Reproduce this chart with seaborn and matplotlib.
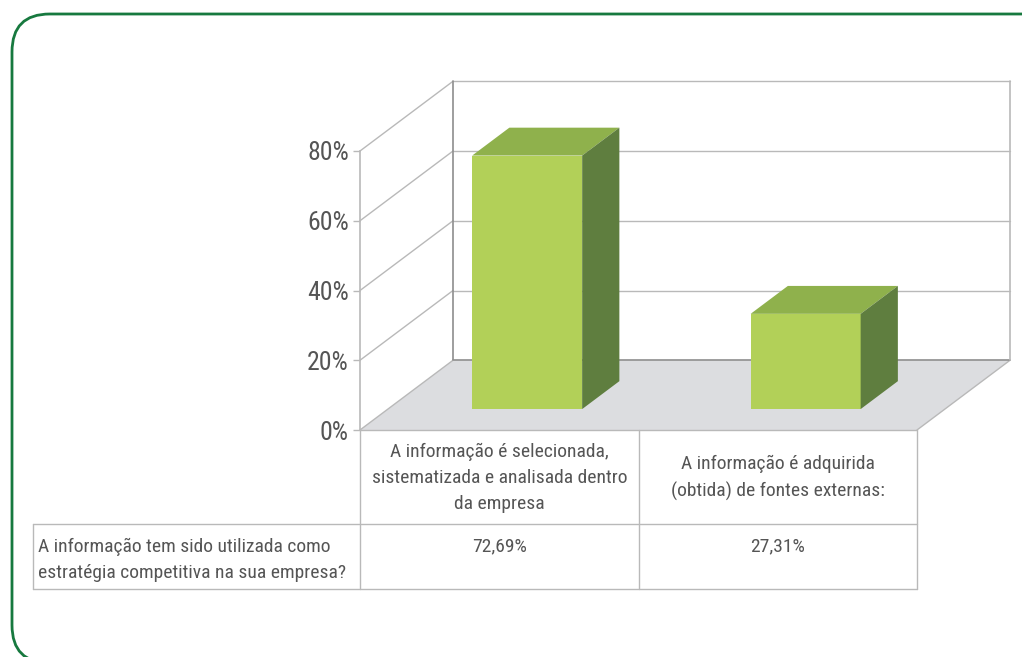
import pandas as pd
import matplotlib.pyplot as plt
import seaborn as sns
from matplotlib.patches import Polygon, FancyBboxPatch

# Chart data
categories = [
    "A informação é selecionada,\nsistematizada e analisada dentro\nda empresa",
    "A informação é adquirida\n(obtida) de fontes externas:",
]
values = [72.69, 27.31]
value_labels = ["72,69%", "27,31%"]
row_label = "A informação tem sido utilizada como\nestratégia competitiva na sua empresa?"
y_ticks = [0, 20, 40, 60, 80]

# Colours
FRONT = "#b2d058"
TOP = "#8fb14c"
SIDE = "#5f7e3f"
FLOOR = "#dcdde0"
GRID = "#b9b9b9"
DARK = "#8e8e8e"
TEXT = "#555555"

# depth vector of the fake 3d box, in data units (x: categories, y: percent)
DX, DY = 0.334, 20.0
BAR_D0, BAR_D1 = 0.3, 0.7

sns.set_theme(style="white")
plt.rcParams["font.family"] = ["Roboto Condensed", "Archivo Narrow", "Liberation Sans", "DejaVu Sans"]

fig = plt.figure(figsize=(10.22, 6.57), dpi=100)
ax = fig.add_axes([360 / 1022, 227 / 657, 557 / 1022, 279 / 657])
ax.set_xlim(-0.5, 1.5)
ax.set_ylim(0, 80)
ax.patch.set_alpha(0)

# rounded green frame (runs off the right and bottom edges)
frame = FancyBboxPatch((12 / 1022, -6 / 657), 1.05, 649 / 657,
                       boxstyle="round,pad=0,rounding_size=0.037",
                       transform=fig.transFigure, fill=False,
                       edgecolor="#17793f", linewidth=2.0, mutation_aspect=1022 / 657)
fig.patches.append(frame)

x0, x1 = -0.5, 1.5

# floor
floor = Polygon([(x0, 0), (x1, 0), (x1 + DX, DY), (x0 + DX, DY)], closed=True,
                facecolor=FLOOR, edgecolor="none", zorder=1, clip_on=False)
ax.add_patch(floor)
ax.plot([x1, x1 + DX], [0, DY], color=GRID, lw=1, zorder=2, clip_on=False)
ax.plot([x0 + DX, x1 + DX], [DY, DY], color=DARK, lw=1.2, zorder=2, clip_on=False)

# walls and gridlines
for v in y_ticks:
    ax.plot([x0, x0 + DX], [v, v + DY], color=GRID, lw=1, zorder=2, clip_on=False)
    if v > 0:
        ax.plot([x0 + DX, x1 + DX], [v + DY, v + DY], color=GRID, lw=1, zorder=2, clip_on=False)
ax.plot([x0 + DX, x0 + DX], [DY, 80 + DY], color=DARK, lw=1.2, zorder=2, clip_on=False)
ax.plot([x1 + DX, x1 + DX], [DY, 80 + DY], color=GRID, lw=1.2, zorder=2, clip_on=False)

# bars (front faces) through seaborn, then top and side faces from them
df = pd.DataFrame({"cat": categories, "value": values})
sns.barplot(data=df, x="cat", y="value", color=FRONT, width=0.395,
            saturation=1, ax=ax, zorder=5)
for p in ax.patches[1:]:
    if p is floor:
        continue
    p.set_x(p.get_x() + BAR_D0 * DX)
    p.set_y(BAR_D0 * DY)
    p.set_facecolor(FRONT)
    p.set_edgecolor("none")
    p.set_clip_on(False)
    bx, bw, bh, by = p.get_x(), p.get_width(), p.get_height(), p.get_y()
    ddx, ddy = (BAR_D1 - BAR_D0) * DX, (BAR_D1 - BAR_D0) * DY
    ax.add_patch(Polygon([(bx, by + bh), (bx + bw, by + bh), (bx + bw + ddx, by + bh + ddy),
                          (bx + ddx, by + bh + ddy)], closed=True, facecolor=TOP,
                         edgecolor="none", zorder=6, clip_on=False))
    ax.add_patch(Polygon([(bx + bw, by), (bx + bw + ddx, by + ddy), (bx + bw + ddx, by + bh + ddy),
                          (bx + bw, by + bh)], closed=True, facecolor=SIDE,
                         edgecolor="none", zorder=6, clip_on=False))

# axes styling
sns.despine(ax=ax, left=False, bottom=True, top=True, right=True)
ax.spines["left"].set_color(GRID)
ax.spines["left"].set_linewidth(1.2)
ax.set_yticks(y_ticks)
ax.set_yticklabels([f"{v}%" for v in y_ticks])
ax.tick_params(axis="y", length=5, width=1, color=GRID, labelsize=18.5, labelcolor=TEXT, pad=3, left=True)
ax.set_xticks([])
ax.set_xlabel("")
ax.set_ylabel("")

# data table under the chart
r1, r2 = -26.95, -45.6
xl = -1.674
lk = dict(color=GRID, lw=1, zorder=3, clip_on=False)
ax.plot([x0, x1], [0, 0], **lk)
ax.plot([xl, x1], [r1, r1], **lk)
ax.plot([xl, x1], [r2, r2], **lk)
ax.plot([xl, xl], [r1, r2], **lk)
for xv in [x0, 0.5, x1]:
    ax.plot([xv, xv], [0, r2], **lk)

for i, (cat, lab) in enumerate(zip(categories, value_labels)):
    ax.text(i, r1 / 2 - 0.3, cat, ha="center", va="center", fontsize=14, color=TEXT,
            linespacing=1.58, clip_on=False)
    ax.text(i, r1 - 3.9, lab, ha="center", va="top", fontsize=14, color=TEXT, clip_on=False)
ax.text(xl + 0.018, r1 - 3.9, row_label, ha="left", va="top", fontsize=14, color=TEXT,
        linespacing=1.58, clip_on=False)

fig.savefig("out.png", dpi=100)
